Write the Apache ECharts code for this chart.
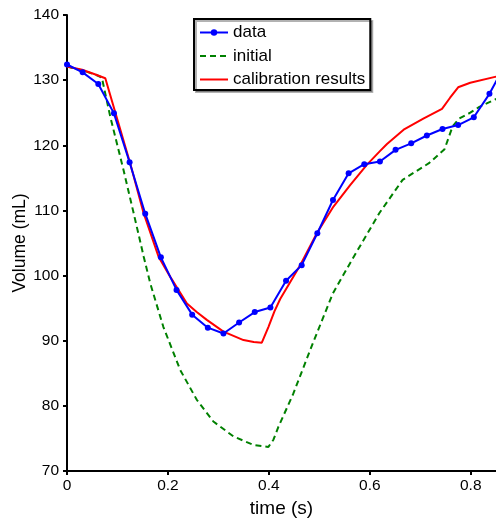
<!DOCTYPE html>
<html>
<head>
<meta charset="utf-8">
<script src="https://cdn.jsdelivr.net/npm/echarts@6/dist/echarts.min.js"></script>
<style>html,body{margin:0;padding:0;background:#fff}#c{width:496px;height:521px}</style>
</head>
<body>
<div id="c"></div>
<script>
// measured data (blue)
const dataTime = [0,0.031,0.062,0.093,0.124,0.155,0.186,0.217,0.248,0.279,0.31,0.341,0.372,0.403,0.434,0.465,0.496,0.527,0.558,0.589,0.62,0.651,0.682,0.713,0.744,0.775,0.806,0.837,0.868];
const dataVol  = [132.4,131.2,129.4,124.9,117.4,109.5,102.8,97.8,94.0,92.0,91.1,92.8,94.4,95.1,99.2,101.6,106.5,111.6,115.7,117.1,117.5,119.3,120.3,121.5,122.5,123.1,124.3,127.9,132.4];
// initial (green dashed)
const initTime = [0,0.03,0.055,0.069,0.0857,0.112,0.132,0.152,0.165,0.191,0.2244,0.2574,0.29,0.33,0.3695,0.399,0.409,0.419,0.448,0.487,0.527,0.566,0.619,0.665,0.718,0.748,0.764,0.777,0.799,0.817,0.85,0.87];
const initVol  = [132.1,131.5,130.9,130.4,124.4,116.2,109.6,102.9,98.8,92.1,85.5,80.9,77.6,75.3,74.0,73.7,74.8,76.8,81.8,89.6,97.3,102.6,109.6,114.7,117.3,119.4,122.9,124.1,125.0,125.9,127.1,127.8];
// calibration results (red)
const calTime = [0,0.03,0.055,0.0759,0.1253,0.1517,0.1814,0.2046,0.2376,0.257,0.277,0.31,0.3497,0.37,0.386,0.399,0.411,0.4224,0.462,0.495,0.528,0.561,0.594,0.62,0.634,0.667,0.706,0.743,0.759,0.775,0.799,0.848,0.87];
const calVol  = [132.1,131.6,130.9,130.3,117.2,109.6,102.9,99.8,95.7,94.4,93.2,91.4,90.1,89.8,89.7,92.1,94.5,96.4,101.6,106.5,110.6,113.9,117.0,119.1,120.2,122.4,124.1,125.6,127.3,128.9,129.6,130.5,130.8];
// tick labels
const xTicks = [0,0.2,0.4,0.6,0.8];
const yTicks = [70,80,90,100,110,120,130,140];

const zip = (a,b) => a.map((v,i)=>[v,b[i]]);
const font = 'Liberation Sans, Arial, Helvetica, sans-serif';

const chart = echarts.init(document.getElementById('c'), null, {renderer:'canvas'});
chart.setOption({
  animation: false,
  backgroundColor: '#fff',
  grid: {left: 67, top: 15, right: 0, bottom: 50, containLabel: false, outerBoundsMode: 'none'},
  legend: {
    orient: 'vertical',
    left: 194, top: 19,
    padding: [5, 5, 2, 5],
    itemGap: 6.5,
    itemWidth: 28,
    itemHeight: 8,
    borderColor: '#000',
    borderWidth: 2,
    backgroundColor: '#fff',
    shadowColor: 'rgba(0,0,0,0.3)', shadowOffsetX: 2, shadowOffsetY: 2, shadowBlur: 0,
    textStyle: {fontFamily: font, fontSize: 17, color: '#000', lineHeight: 17},
    data: [
      {name: 'data'},
      {name: 'initial', itemStyle: {opacity: 0}},
      {name: 'calibration results', itemStyle: {opacity: 0}}
    ]
  },
  xAxis: {
    type: 'value', min: 0, max: 0.85, interval: 0.2,
    name: 'time (s)', nameLocation: 'middle', nameGap: 27,
    nameTextStyle: {fontFamily: font, fontSize: 19, color: '#000'},
    axisLine: {lineStyle: {color: '#000', width: 2}},
    axisTick: {show: true, length: 4, inside: false, lineStyle: {color:'#000', width: 2}, customValues: xTicks},
    axisLabel: {fontFamily: font, fontSize: 15.5, color: '#000', margin: 7, customValues: xTicks,
      formatter: v => String(Math.round(v*10)/10)},
    splitLine: {show: false}
  },
  yAxis: {
    type: 'value', min: 70, max: 140, interval: 10,
    name: 'Volume (mL)', nameLocation: 'middle', nameGap: 38, nameRotate: 90, nameMoveOverlap: false,
    nameTextStyle: {fontFamily: font, fontSize: 17.5, color: '#000'},
    axisLine: {show: true, lineStyle: {color: '#000', width: 2}},
    axisTick: {show: true, length: 4, inside: false, lineStyle: {color:'#000', width: 2}, customValues: yTicks},
    axisLabel: {fontFamily: font, fontSize: 15.5, color: '#000', margin: 8, customValues: yTicks},
    splitLine: {show: false}
  },
  series: [
    {
      name: 'data', type: 'line', data: zip(dataTime, dataVol),
      symbol: 'circle', symbolSize: 6, showSymbol: true, clip: true,
      itemStyle: {color: '#0000ff'},
      lineStyle: {color: '#0000ff', width: 2}, z: 3
    },
    {
      name: 'initial', type: 'line', data: zip(initTime, initVol),
      symbol: 'none', clip: true,
      itemStyle: {color: '#008000'},
      lineStyle: {color: '#008000', width: 2, type: [6, 4]}, z: 1
    },
    {
      name: 'calibration results', type: 'line', data: zip(calTime, calVol),
      symbol: 'none', clip: true,
      itemStyle: {color: '#ff0000'},
      lineStyle: {color: '#ff0000', width: 2}, z: 2
    }
  ]
});
</script>
</body>
</html>
